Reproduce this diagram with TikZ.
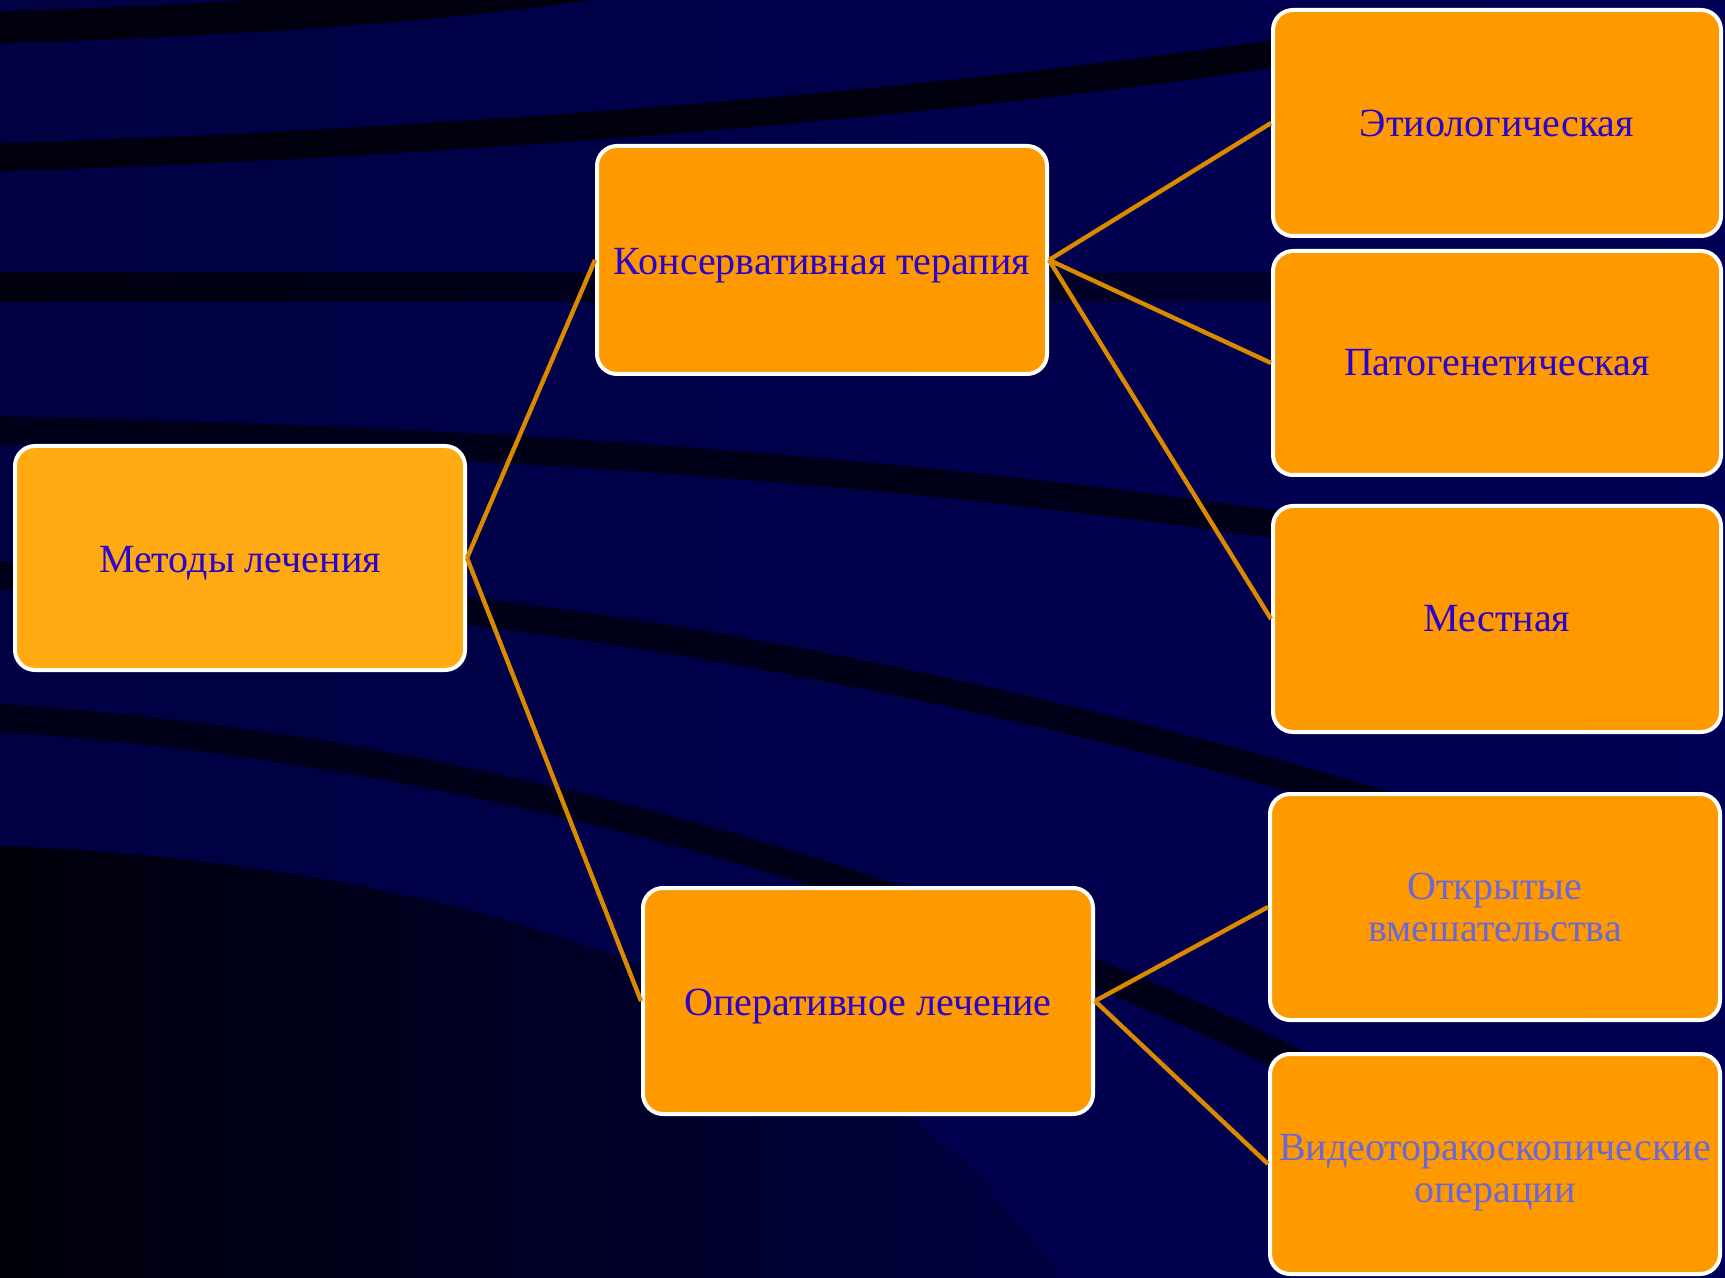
\documentclass[tikz,border=0pt]{standalone}
\usepackage{fontspec}
\setmainfont{Liberation Serif}
\definecolor{navyA}{HTML}{000042}
\definecolor{navyB}{HTML}{000054}
\definecolor{stripeD}{HTML}{00000E}
\definecolor{stripeL}{HTML}{00002E}
\definecolor{stripecol}{HTML}{000018}
\definecolor{boxor}{HTML}{FF9900}
\definecolor{boxlight}{HTML}{FFAA11}
\definecolor{txtblue}{HTML}{2A00CC}
\definecolor{txtpale}{HTML}{6B68D6}
\definecolor{connor}{HTML}{DB8A00}
\definecolor{darkL}{HTML}{00000A}
\definecolor{darkR}{HTML}{000040}
\newcommand{\lowline}[1]{\raisebox{-4.5pt}[\height][\depth]{#1}}
\begin{document}
\begin{tikzpicture}[x=0.5pt,y=-0.5pt,
  box/.style={draw=white, line width=2pt, rounded corners=10pt, fill=boxor,
    minimum width=225pt, minimum height=113pt, inner sep=0pt, align=center,
    text=txtblue, font=\fontsize{20}{21}\selectfont},
  pale/.style={text=txtpale},
  lowtext/.style={text height=19pt, text depth=4.4pt},
  conn/.style={draw=connor, line width=2.2pt},
  stripe/.style={draw=stripecol, line width=14pt}]
\useasboundingbox (0,0) rectangle (1725,1278);
\shade[left color=navyA, right color=navyB] (0,0) rectangle (1725,1278);
\begin{scope}
\clip (0,0) rectangle (1725,1278);
\draw[stripe, draw=stripeD, line width=16pt] (-20,28) .. controls (250,20) and (450,5) .. (620,-20);
\draw[stripe, draw=stripeD] (-20,158) .. controls (400,145) and (900,110) .. (1300,50);
\shade[left color=stripeD, right color=stripeL] (-10,273) rectangle (1300,302);
\draw[stripe] (-20,430) .. controls (500,440) and (900,470) .. (1300,528);
\draw[stripe] (-20,575) .. controls (400,585) and (900,650) .. (1500,840);
\draw[stripe] (-20,717) .. controls (400,740) and (900,860) .. (1350,1090);
\shade[left color=darkL, right color=darkR] (0,846) .. controls (380,860) and (850,960) .. (1060,1278) -- (0,1278) -- cycle;
\end{scope}

\node[box, lowtext, fill=boxlight, minimum height=112pt] (M) at (240,558) {Методы лечения};
\node[box, lowtext, minimum height=114pt] (K) at (822,260) {Консервативная терапия};
\node[box, lowtext, minimum height=113pt] (O) at (868,1001) {Оперативное лечение};
\node[box, minimum width=224pt] (E) at (1497,123) {Этиологическая};
\node[box, minimum width=224pt, minimum height=112pt] (P) at (1497,363) {Патогенетическая};
\node[box, minimum width=224pt] (L) at (1497,619) {Местная};
\node[box, pale, minimum width=225pt] (A) at (1495,907) {Открытые\\вмешательства};
\node[box, pale, minimum width=225pt, minimum height=110pt] (V) at (1495,1164) {\lowline{Видеоторакоскопические}\\\lowline{операции}};

\draw[conn] (M.east) -- (K.west);
\draw[conn] (M.east) -- (O.west);
\draw[conn] (K.east) -- (E.west);
\draw[conn] (K.east) -- (P.west);
\draw[conn] (K.east) -- (L.west);
\draw[conn] (O.east) -- (A.west);
\draw[conn] (O.east) -- (V.west);
\end{tikzpicture}
\end{document}
